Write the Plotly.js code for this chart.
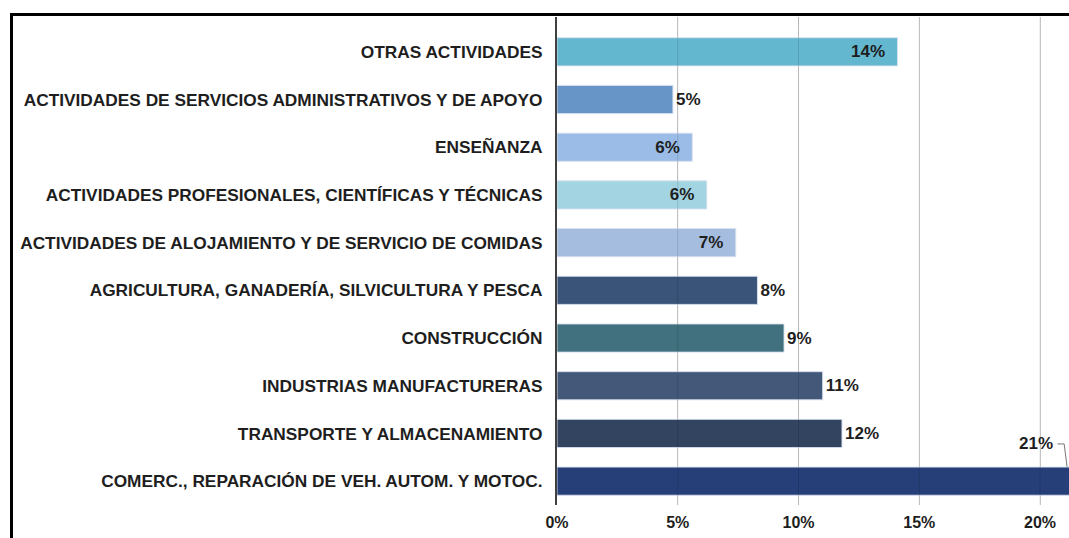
<!DOCTYPE html>
<html>
<head>
<meta charset="utf-8">
<script src="https://cdn.plot.ly/plotly-3.0.1.min.js"></script>
<style>
  html, body { margin: 0; padding: 0; background: #fff; }
  #wrap { position: relative; width: 1069px; height: 538px; overflow: hidden; }
  #chart { position: absolute; left: 0; top: 0; width: 1069px; height: 538px; }
  #frame { position: absolute; left: 10px; top: 13px; width: 1070px; height: 540px;
           border-top: 3px solid #000; border-left: 3px solid #000; pointer-events: none; }
</style>
</head>
<body>
<div id="wrap">
  <div id="chart"></div>
  <div id="frame"></div>
</div>
<script>
// Categories listed bottom to top
const categories = [
  "COMERC., REPARACIÓN DE VEH. AUTOM. Y MOTOC.",
  "TRANSPORTE Y ALMACENAMIENTO",
  "INDUSTRIAS MANUFACTURERAS",
  "CONSTRUCCIÓN",
  "AGRICULTURA, GANADERÍA, SILVICULTURA Y PESCA",
  "ACTIVIDADES DE ALOJAMIENTO Y DE SERVICIO DE COMIDAS",
  "ACTIVIDADES PROFESIONALES, CIENTÍFICAS Y TÉCNICAS",
  "ENSEÑANZA",
  "ACTIVIDADES DE SERVICIOS ADMINISTRATIVOS Y DE APOYO",
  "OTRAS ACTIVIDADES"
];
const values = [21.4, 11.8, 11.0, 9.4, 8.3, 7.4, 6.2, 5.6, 4.8, 14.1];
const labels = ["21%", "12%", "11%", "9%", "8%", "7%", "6%", "6%", "5%", "14%"];
const labelPositions = ["none", "outside", "outside", "outside", "outside", "inside", "inside", "inside", "outside", "inside"];
const colors = ["#263f78", "#324460", "#44597a", "#41717e", "#395478",
                "#a5bddf", "#a2d4e2", "#9abce6", "#6895c8", "#63b7cf"];
const xTicks = [0, 5, 10, 15, 20];

const NB = "\u00a0\u00a0";
const barText = labels.map((t, i) =>
  labelPositions[i] === "none" ? "" : (labelPositions[i] === "inside" ? t + NB : t));
const txtPos = labelPositions.map(p => p === "none" ? "none" : p);

const F = "Liberation Sans, Arial, sans-serif";
const trace = {
  type: "bar",
  orientation: "h",
  y: categories,
  x: values,
  text: barText,
  textposition: txtPos,
  insidetextanchor: "end",
  constraintext: "none",
  cliponaxis: false,
  textfont: { family: F, size: 17, color: "#1e1e1e", weight: "bold" },
  insidetextfont: { family: F, size: 17, color: "#1e1e1e", weight: "bold" },
  outsidetextfont: { family: F, size: 17, color: "#1e1e1e", weight: "bold" },
  marker: { color: colors, opacity: 1, line: { color: "rgba(215,224,238,0.9)", width: 1 } },
  hoverinfo: "none"
};

const annX = 20.5;
const gridShapes = xTicks.filter(v => v > 0).map(v => ({
  type: "line", xref: "x", yref: "paper", x0: v, x1: v, y0: 0, y1: 1,
  layer: "above", line: { color: "rgba(0,0,0,0.13)", width: 1 }
}));

const layout = {
  width: 1069,
  height: 538,
  margin: { l: 557, r: 0, t: 17, b: 33, pad: 0 },
  paper_bgcolor: "#fff",
  plot_bgcolor: "#fff",
  showlegend: false,
  bargap: 0.41,
  font: { family: F, color: "#1e1e1e" },
  xaxis: {
    range: [0, 21.2],
    tickvals: xTicks,
    ticktext: xTicks.map(v => v + "%"),
    showgrid: true,
    gridcolor: "#d4d4d4",
    gridwidth: 1,
    zeroline: false,
    showline: false,
    ticks: "",
    ticklabelstandoff: 6,
    tickfont: { family: F, size: 16, color: "#1e1e1e", weight: "bold" },
    fixedrange: true
  },
  yaxis: {
    type: "category",
    categoryorder: "array",
    categoryarray: categories,
    range: [-0.5, 9.73],
    showgrid: false,
    zeroline: false,
    showline: true,
    linecolor: "#404040",
    linewidth: 2,
    ticks: "",
    ticklabelstandoff: 9,
    tickfont: { family: F, size: 17.3, color: "#1e1e1e", weight: "bold" },
    fixedrange: true
  },
  annotations: [{
    x: annX + 0.1, y: 0.78, xref: "x", yref: "y",
    text: labels[0], showarrow: false, xanchor: "right", yanchor: "middle",
    font: { family: F, size: 17, color: "#1e1e1e", weight: "bold" }
  }],
  shapes: gridShapes.concat([{
    type: "path", xref: "x", yref: "y",
    path: "M " + (annX + 0.22) + " 0.78 L " + (annX + 0.5) + " 0.78 L " + (annX + 0.62) + " 0.3",
    line: { color: "#777", width: 1 }
  }])
};

Plotly.newPlot("chart", [trace], layout, { displayModeBar: false, staticPlot: true });
</script>
</body>
</html>
